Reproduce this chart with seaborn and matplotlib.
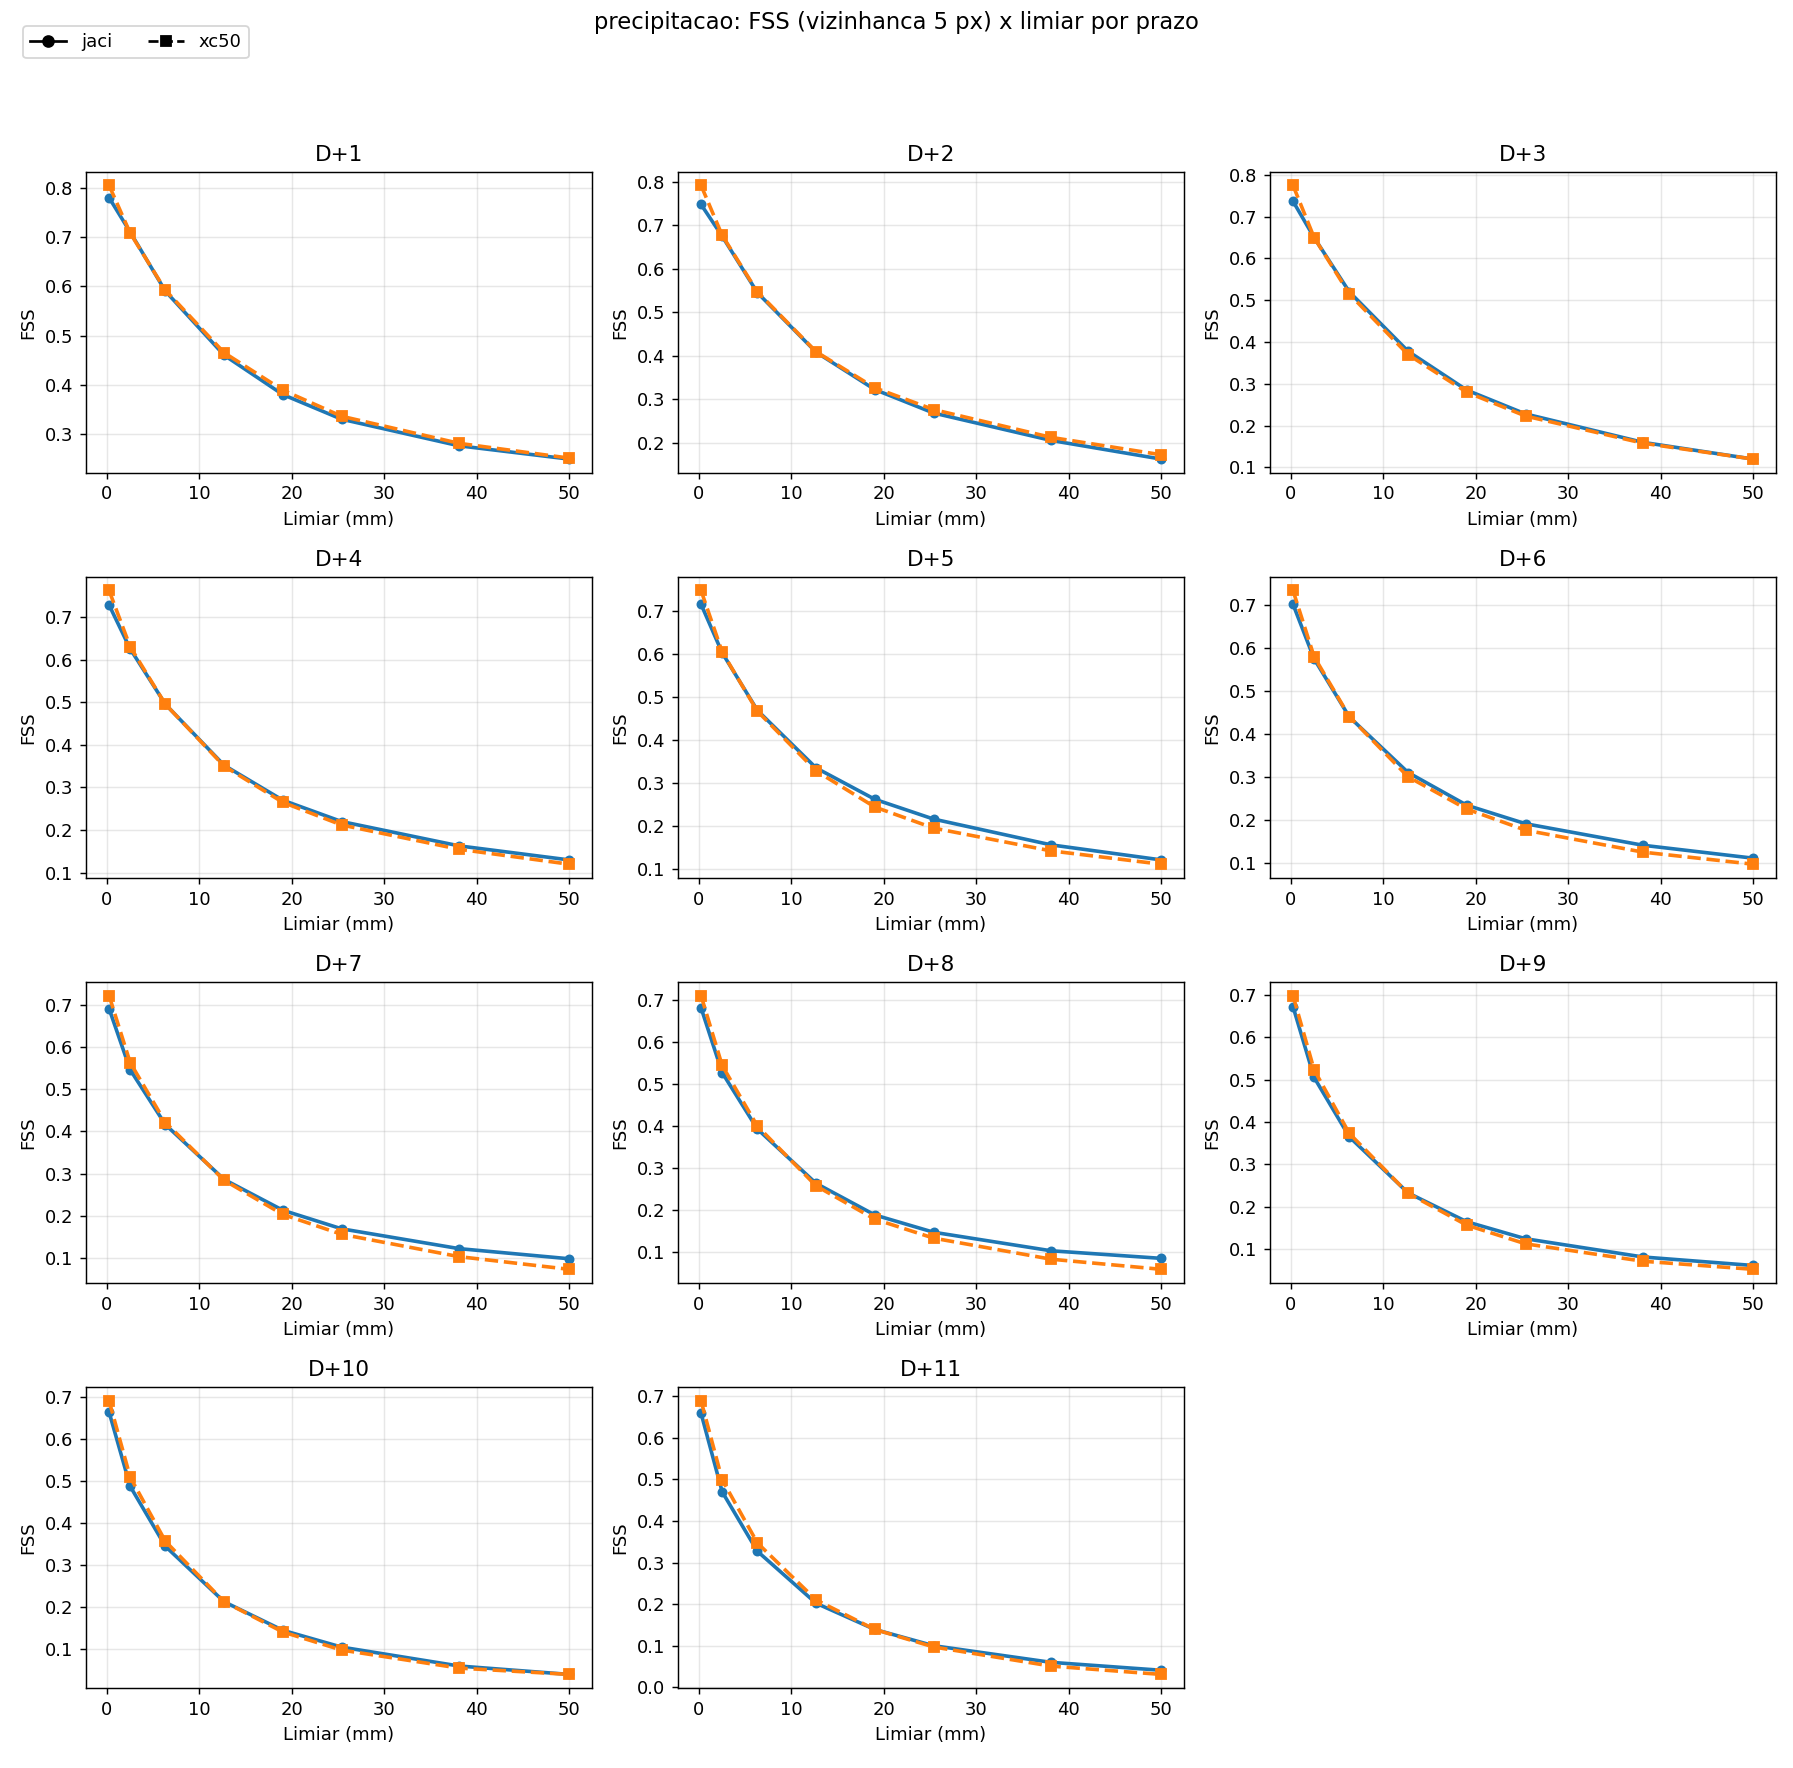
import matplotlib
matplotlib.use("Agg")
import matplotlib.pyplot as plt
from matplotlib.lines import Line2D
import numpy as np
import pandas as pd
import seaborn as sns

# limiares de precipitacao (mm)
limiares = [0.254, 2.54, 6.35, 12.7, 19.05, 25.4, 38.1, 50.0]
prazos = ["D+1", "D+2", "D+3", "D+4", "D+5", "D+6", "D+7", "D+8", "D+9", "D+10", "D+11"]

fss_jaci = [
    [0.780, 0.710, 0.590, 0.460, 0.380, 0.330, 0.276, 0.249],
    [0.748, 0.675, 0.545, 0.408, 0.322, 0.268, 0.205, 0.162],
    [0.737, 0.650, 0.520, 0.378, 0.285, 0.228, 0.160, 0.120],
    [0.728, 0.625, 0.495, 0.352, 0.270, 0.220, 0.163, 0.130],
    [0.716, 0.603, 0.469, 0.335, 0.262, 0.216, 0.156, 0.121],
    [0.702, 0.575, 0.440, 0.311, 0.235, 0.192, 0.142, 0.112],
    [0.691, 0.546, 0.416, 0.286, 0.213, 0.169, 0.122, 0.098],
    [0.681, 0.527, 0.393, 0.264, 0.189, 0.148, 0.104, 0.086],
    [0.672, 0.505, 0.365, 0.233, 0.165, 0.125, 0.082, 0.062],
    [0.665, 0.488, 0.345, 0.213, 0.145, 0.105, 0.060, 0.040],
    [0.659, 0.470, 0.327, 0.202, 0.139, 0.100, 0.060, 0.041],
]

fss_xc50 = [
    [0.805, 0.708, 0.592, 0.465, 0.389, 0.336, 0.281, 0.251],
    [0.792, 0.677, 0.547, 0.409, 0.326, 0.276, 0.212, 0.172],
    [0.775, 0.650, 0.515, 0.370, 0.280, 0.223, 0.158, 0.120],
    [0.762, 0.630, 0.495, 0.350, 0.265, 0.212, 0.155, 0.120],
    [0.748, 0.605, 0.467, 0.328, 0.244, 0.195, 0.142, 0.111],
    [0.734, 0.580, 0.441, 0.301, 0.226, 0.177, 0.126, 0.098],
    [0.722, 0.563, 0.421, 0.284, 0.203, 0.156, 0.103, 0.073],
    [0.710, 0.544, 0.400, 0.258, 0.179, 0.134, 0.084, 0.060],
    [0.698, 0.523, 0.373, 0.232, 0.157, 0.113, 0.072, 0.053],
    [0.692, 0.510, 0.357, 0.213, 0.141, 0.098, 0.055, 0.040],
    [0.689, 0.499, 0.347, 0.210, 0.139, 0.097, 0.051, 0.031],
]

rows = []
for i, prazo in enumerate(prazos):
    for lim, vj, vx in zip(limiares, fss_jaci[i], fss_xc50[i]):
        rows.append({"prazo": prazo, "limiar": lim, "modelo": "jaci", "fss": vj})
        rows.append({"prazo": prazo, "limiar": lim, "modelo": "xc50", "fss": vx})
df = pd.DataFrame(rows)

estilos = {
    "jaci": dict(color="tab:blue", marker="o", linestyle="-", markersize=4.5),
    "xc50": dict(color="tab:orange", marker="s", linestyle="--", markersize=5),
}

dpi = 130
fig, axes = plt.subplots(4, 3, figsize=(1793 / dpi, 1768 / dpi), dpi=dpi)
fig.subplots_adjust(left=0.048, right=0.9905, top=0.9029, bottom=0.0452,
                    wspace=0.17, hspace=0.3455)

for ax, prazo in zip(axes.flat, prazos):
    sub = df[df["prazo"] == prazo]
    for modelo, kw in estilos.items():
        d = sub[sub["modelo"] == modelo]
        sns.lineplot(data=d, x="limiar", y="fss", ax=ax,
                     linewidth=2, markeredgewidth=1,
                     markeredgecolor=kw["color"], errorbar=None, legend=False, **kw)
    ax.set_title(prazo, fontsize=12)
    ax.set_xlabel("Limiar (mm)")
    ax.set_ylabel("FSS")
    ax.set_xticks([0, 10, 20, 30, 40, 50])
    ax.grid(True, alpha=0.3)

for ax in axes.flat[len(prazos):]:
    ax.axis("off")

# legenda so com o estilo de cada modelo (em preto)
handles = [
    Line2D([], [], color="black", marker="o", linestyle="-"),
    Line2D([], [], color="black", marker="s", linestyle="--"),
]
fig.legend(handles, list(estilos.keys()), loc="upper left", ncol=2,
           bbox_to_anchor=(23 / 1793, 1 - 26 / 1768), borderaxespad=0)
fig.suptitle("precipitacao: FSS (vizinhanca 5 px) x limiar por prazo",
             fontsize=12.5, y=1 - 11 / 1768, va="top")

fig.savefig("out.png", dpi=dpi)
